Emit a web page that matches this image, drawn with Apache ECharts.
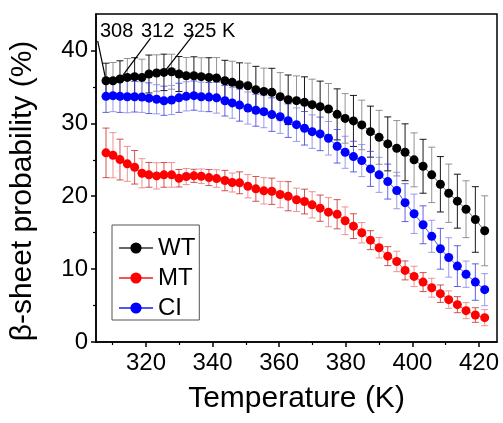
<!DOCTYPE html>
<html><head><meta charset="utf-8">
<script src="https://cdn.jsdelivr.net/npm/echarts@6/dist/echarts.min.js"></script>
<style>html,body{margin:0;padding:0;background:#fff}#c{width:503px;height:423px}</style>
</head><body><div id="c"></div>
<script>
const temps = [308.0, 310.1, 312.2, 314.4, 316.6, 318.8, 320.9, 323.2, 325.4, 327.7, 329.9, 332.1, 334.4, 336.6, 338.9, 341.2, 343.7, 345.9, 348.1, 350.6, 353.0, 355.4, 357.8, 360.3, 362.7, 365.2, 367.6, 369.9, 372.3, 374.8, 377.4, 379.8, 382.3, 384.8, 387.4, 390.0, 392.6, 395.3, 397.8, 400.5, 403.2, 405.8, 408.4, 410.9, 413.5, 416.1, 418.9, 421.7];
const wt = [35.85, 35.85, 36.08, 36.30, 36.40, 36.30, 36.77, 36.90, 36.99, 37.08, 36.77, 36.53, 36.53, 36.40, 36.30, 36.22, 35.85, 35.62, 35.30, 35.16, 34.62, 34.38, 34.25, 33.66, 33.23, 33.11, 32.88, 32.56, 32.29, 31.97, 31.23, 30.68, 30.33, 29.78, 28.86, 28.08, 27.18, 26.58, 26.03, 24.99, 24.11, 22.93, 21.64, 20.41, 19.32, 18.22, 16.81, 15.26];
const wtErr = [2.4, 2.5, 2.5, 2.6, 2.6, 2.5, 2.6, 2.5, 2.5, 2.4, 2.4, 2.5, 2.6, 2.6, 2.7, 2.8, 2.8, 2.9, 3.0, 3.1, 3.2, 3.2, 3.3, 3.3, 3.4, 3.4, 3.5, 3.5, 3.5, 3.5, 3.5, 3.4, 3.5, 3.4, 3.5, 3.7, 3.7, 3.8, 3.9, 3.7, 3.7, 3.8, 3.8, 4.0, 3.7, 3.9, 4.5, 4.8];
const mt = [25.95, 25.62, 25.03, 24.44, 23.97, 23.15, 22.93, 22.79, 22.93, 22.93, 22.47, 22.70, 22.80, 22.74, 22.56, 22.42, 22.15, 21.88, 21.84, 21.37, 21.01, 20.74, 20.68, 20.23, 20.00, 19.51, 19.27, 18.82, 18.36, 17.81, 17.53, 16.63, 15.89, 14.99, 13.97, 12.93, 11.78, 11.05, 9.82, 9.00, 8.22, 7.45, 6.63, 5.81, 5.12, 4.30, 3.70, 3.34];
const mtErr = [3.4, 3.1, 2.8, 2.4, 2.3, 2.0, 1.7, 1.8, 1.7, 1.7, 1.2, 1.1, 0.9, 1.0, 1.1, 1.2, 1.4, 1.3, 1.5, 1.6, 1.7, 1.8, 1.8, 1.8, 2.0, 1.6, 1.7, 1.8, 1.8, 2.0, 2.0, 1.9, 1.7, 1.4, 1.3, 1.4, 1.3, 1.4, 1.3, 1.4, 1.3, 1.3, 1.2, 1.2, 1.1, 1.1, 1.0, 1.1];
const ci = [33.70, 33.80, 33.70, 33.65, 33.65, 33.60, 33.45, 33.30, 33.10, 33.20, 33.50, 33.70, 33.80, 33.65, 33.60, 33.50, 33.10, 32.80, 32.50, 32.10, 31.80, 31.60, 31.20, 30.92, 30.37, 29.82, 29.32, 28.86, 28.55, 27.95, 26.85, 26.03, 25.44, 24.89, 23.75, 22.93, 22.01, 20.78, 19.12, 17.59, 16.08, 14.50, 12.79, 11.60, 10.41, 9.30, 8.22, 7.18];
const ciErr = [2.2, 2.2, 2.2, 2.2, 2.1, 2.1, 2.1, 2.0, 2.0, 2.0, 2.0, 2.0, 2.0, 2.0, 2.0, 2.1, 2.1, 2.1, 2.2, 2.2, 2.2, 2.2, 2.3, 2.3, 2.3, 2.3, 2.3, 2.3, 2.3, 2.3, 2.3, 2.2, 2.1, 2.2, 2.4, 2.4, 2.4, 2.5, 2.6, 2.7, 2.6, 2.2, 2.8, 2.7, 2.8, 1.8, 2.5, 2.2];
const seriesNames = ['WT', 'MT', 'CI'];
const xTickLabels = [320, 340, 360, 380, 400, 420];
const xMinorTicks = [310, 330, 350, 370, 390, 410];
const yTickLabels = [0, 10, 20, 30, 40];
const yMinorTicks = [5, 15, 25, 35];
const annotLabels = ['308', '312', '325 K'];
const annotIdx = [0, 2, 8];
const annotTextEnds = [[305.5, 41.3], [321.4, 41.7], [334.3, 42.2]];

const FONT = '"Liberation Sans", Arial, sans-serif';
function pairs(y) { return temps.map((t, i) => [t, y[i]]); }
function errData(y, e) { return temps.map((t, i) => [t, y[i] - e[i], y[i] + e[i], i]); }
function errSeries(name, y, e, c1, c2) {
  return {
    type: 'custom', name: name + ' err', data: errData(y, e), z: 1, silent: true,
    encode: { x: 0, y: [1, 2] },
    renderItem(params, api) {
      const x = api.value(0), lo = api.value(1), hi = api.value(2), i = api.value(3);
      const p1 = api.coord([x, lo]), p2 = api.coord([x, hi]);
      const w = 3.5;
      const st = { stroke: i % 2 === 0 ? c1 : c2, lineWidth: 1 };
      return { type: 'group', children: [
        { type: 'line', shape: { x1: p1[0], y1: p1[1], x2: p2[0], y2: p2[1] }, style: st },
        { type: 'line', shape: { x1: p1[0] - w, y1: p1[1], x2: p1[0] + w, y2: p1[1] }, style: st },
        { type: 'line', shape: { x1: p2[0] - w, y1: p2[1], x2: p2[0] + w, y2: p2[1] }, style: st }
      ] };
    }
  };
}
function lineSeries(name, y, c, lc) {
  return {
    type: 'line', name: name, data: pairs(y), symbol: 'circle', symbolSize: 9, z: 3,
    itemStyle: { color: c }, lineStyle: { color: lc, width: 1 }
  };
}

const chart = echarts.init(document.getElementById('c'), null, { renderer: 'canvas' });
const wtLine = lineSeries(seriesNames[0], wt, '#000000', '#666666');
wtLine.markLine = {
  symbol: ['none', 'none'], silent: true, animation: false,
  lineStyle: { color: '#000', width: 1.2, type: 'solid' }, label: { show: false },
  emphasis: { disabled: true },
  data: annotIdx.map((k, j) => [{ coord: [temps[k], wt[k]] }, { coord: annotTextEnds[j] }])
};
chart.setOption({
  animation: false,
  backgroundColor: '#fff',
  grid: { left: 96, right: 6, top: 14, bottom: 81, show: true, borderColor: '#000', borderWidth: 1.5, backgroundColor: 'transparent' },
  legend: {
    data: seriesNames, orient: 'vertical', left: 112, top: 225,
    itemWidth: 34, itemHeight: 14, itemGap: 6, padding: [11, 4, 0, 6],
    borderColor: '#555', borderWidth: 1, backgroundColor: '#fff',
    textStyle: { fontSize: 24, fontFamily: FONT, color: '#000' }
  },
  xAxis: [{
    type: 'value', min: 305, max: 425.4,
    name: 'Temperature (K)', nameLocation: 'middle', nameGap: 42,
    nameTextStyle: { fontSize: 30, fontFamily: FONT, color: '#000' },
    axisLine: { lineStyle: { color: '#000', width: 1.5 } },
    axisTick: { customValues: xTickLabels, length: 5, lineStyle: { color: '#000', width: 1.5 } },
    axisLabel: { customValues: xTickLabels, fontSize: 24, margin: 9, color: '#000', fontFamily: FONT },
    splitLine: { show: false }
  }, {
    type: 'value', min: 305, max: 425.4, position: 'bottom',
    axisLine: { show: false },
    axisTick: { customValues: xMinorTicks, length: 3, lineStyle: { color: '#000', width: 1.2 } },
    axisLabel: { show: false }, splitLine: { show: false }
  }],
  yAxis: [{
    type: 'value', min: 0, max: 45,
    axisLine: { show: true, lineStyle: { color: '#000', width: 1.5 } },
    axisTick: { show: true, customValues: yTickLabels, length: 5, lineStyle: { color: '#000', width: 1.5 } },
    axisLabel: { customValues: yTickLabels, fontSize: 24, margin: 8, color: '#000', fontFamily: FONT },
    splitLine: { show: false }
  }, {
    type: 'value', min: 0, max: 45, position: 'left',
    axisLine: { show: false },
    axisTick: { show: true, customValues: yMinorTicks, length: 3, lineStyle: { color: '#000', width: 1.2 } },
    axisLabel: { show: false }, splitLine: { show: false }
  }],
  graphic: [
    { type: 'text', x: 23, y: 191, rotation: Math.PI / 2,
      style: { text: 'β-sheet probability (%)', font: '30px "Liberation Sans", Arial, sans-serif', fill: '#000', textAlign: 'center', textVerticalAlign: 'middle', verticalAlign: 'middle' } },
    { type: 'text', x: 100, y: 31, style: { text: annotLabels[0], font: '20px "Liberation Sans", Arial, sans-serif', fill: '#000', textVerticalAlign: 'middle', verticalAlign: 'middle' } },
    { type: 'text', x: 141, y: 31, style: { text: annotLabels[1], font: '20px "Liberation Sans", Arial, sans-serif', fill: '#000', textVerticalAlign: 'middle', verticalAlign: 'middle' } },
    { type: 'text', x: 183, y: 31, style: { text: annotLabels[2], font: '20px "Liberation Sans", Arial, sans-serif', fill: '#000', textVerticalAlign: 'middle', verticalAlign: 'middle' } }
  ],
  series: [
    errSeries('WT', wt, wtErr, 'rgba(0,0,0,0.9)', 'rgba(120,120,120,0.8)'),
    errSeries('MT', mt, mtErr, 'rgba(200,40,40,0.8)', 'rgba(235,120,120,0.8)'),
    errSeries('CI', ci, ciErr, 'rgba(60,60,220,0.8)', 'rgba(130,130,235,0.8)'),
    wtLine,
    lineSeries(seriesNames[1], mt, '#ff0000', '#ee5555'),
    lineSeries(seriesNames[2], ci, '#0000ff', '#5555ee')
  ]
});
</script></body></html>
